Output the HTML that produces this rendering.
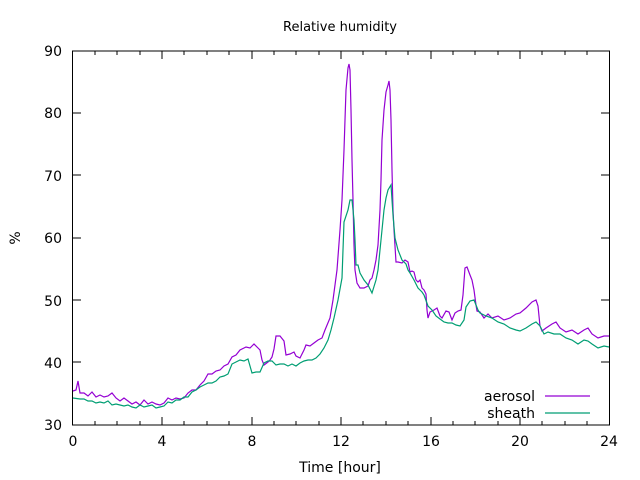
<!DOCTYPE html>
<html><head><meta charset="utf-8"><style>
html,body{margin:0;padding:0;background:#fff}
svg{display:block;font-family:"DejaVu Sans","Liberation Sans",sans-serif}
</style></head><body>
<svg width="640" height="480" viewBox="0 0 640 480" xmlns="http://www.w3.org/2000/svg">
<rect width="640" height="480" fill="#fff"/>
<text x="340" y="31" font-size="13" text-anchor="middle">Relative humidity</text>
<g font-size="14" text-anchor="end">
<text x="62" y="56">90</text><text x="62" y="118">80</text><text x="62" y="181">70</text>
<text x="62" y="243">60</text><text x="62" y="306">50</text><text x="62" y="368">40</text><text x="62" y="430">30</text>
</g>
<g font-size="14" text-anchor="middle">
<text x="73" y="446">0</text><text x="162" y="446">4</text><text x="252" y="446">8</text>
<text x="341" y="446">12</text><text x="431" y="446">16</text><text x="520" y="446">20</text><text x="609" y="446">24</text>
</g>
<text x="340" y="472" font-size="14" text-anchor="middle">Time [hour]</text>
<text x="20" y="238" font-size="14" text-anchor="middle" transform="rotate(-90 20 238)">%</text>
<g stroke="#000" stroke-width="1">
<path d="M72.5,113H81M72.5,175H81M72.5,238H81M72.5,300H81M72.5,362H81M609.5,113H601M609.5,175H601M609.5,238H601M609.5,300H601M609.5,362H601"/>
<path d="M95,425v-4M117,425v-4M140,425v-4M162,425v-8M184,425v-4M207,425v-4M229,425v-4M252,425v-8M274,425v-4M296,425v-4M319,425v-4M341,425v-8M363,425v-4M386,425v-4M408,425v-4M431,425v-8M453,425v-4M475,425v-4M498,425v-4M520,425v-8M542,425v-4M565,425v-4M587,425v-4"/>
<path d="M95,51v4M117,51v4M140,51v4M162,51v8M184,51v4M207,51v4M229,51v4M252,51v8M274,51v4M296,51v4M319,51v4M341,51v8M363,51v4M386,51v4M408,51v4M431,51v8M453,51v4M475,51v4M498,51v4M520,51v8M542,51v4M565,51v4M587,51v4"/>
<rect x="72.5" y="51" width="537" height="374" fill="none"/>
</g>
<polyline fill="none" stroke="#9400d3" stroke-width="1.2" points="73,391 76,390 78,381 80,393 84,393 88,396 92,392 96,397 100,395 104,397 108,396 112,393 116,398 120,401 124,398 128,401 132,404 136,402 140,405 144,400 148,404 152,402 156,404 160,405 164,403 168,398 172,400 176,398 180,399 184,398 188,393 192,390 196,390 200,385 204,381 208,374 212,374 216,371 220,370 224,366 228,364 232,357 236,355 240,350 244,348 246,347 250,348 254,344 258,348 260,350 262,360 264,365 268,362 270,360 272,357 274,349 276,336 280,336 284,341 286,355 290,354 294,352 296,356 300,358 304,350 306,345 310,346 314,343 318,340 322,338 325,330 330,318 333,300 337,270 340,230 342,200 344,150 346,90 348,68 349,64 350,70 351,110 352,160 353,200 354,245 355,270 357,283 360,288 364,288 368,286 370,280 372,278 374,270 376,260 378,245 380,210 381,180 382,140 384,110 386,92 388,85 389,81 390,90 391,120 392,170 393,210 394,230 396,262 398,262 402,263 405,260 408,262 410,272 412,271 414,272 416,280 418,282 420,280 422,288 424,290 426,294 427,310 428,318 430,312 434,310 437,308 440,316 442,318 446,311 449,312 452,320 455,313 458,311 461,310 463,295 465,268 467,267 470,275 472,280 474,290 476,305 477,311 480,312 484,318 488,314 492,318 498,316 504,320 510,318 516,314 520,313 526,308 532,302 536,300 538,306 540,326 542,331 546,328 552,324 556,322 560,328 566,332 572,330 578,334 584,330 588,328 592,334 598,338 604,336 609,336"/>
<polyline fill="none" stroke="#009e73" stroke-width="1.2" points="73,398 80,399 84,399 88,401 92,401 96,403 100,402 104,403 108,401 112,405 116,404 120,405 124,406 128,405 132,407 136,408 140,405 144,407 148,406 152,405 156,408 160,407 164,406 168,402 172,403 176,400 180,400 184,397 188,397 192,392 196,390 200,387 204,385 208,383 212,383 216,381 220,377 224,376 228,374 232,364 236,362 240,360 244,361 248,359 252,373 256,372 260,372 264,363 268,361 272,361 276,365 280,364 284,364 288,366 292,364 296,366 300,363 304,361 308,360 312,360 316,358 320,354 324,348 328,340 331,330 334,318 338,300 342,278 344,222 348,210 350,200 352,200 354,220 355,240 356,265 358,265 360,273 364,280 368,285 372,293 376,280 378,270 380,250 382,230 384,210 386,198 388,190 391,185 393,215 395,238 398,250 402,260 406,264 408,270 410,273 414,280 418,288 422,292 424,295 428,306 432,310 436,316 440,319 444,322 448,323 452,323 456,325 460,326 464,320 466,307 470,301 474,300 478,310 480,313 486,316 492,318 498,322 504,324 510,328 516,330 520,331 526,328 532,324 536,322 540,326 544,334 548,332 554,334 560,334 566,338 572,340 578,344 584,340 588,341 592,344 598,348 604,346 609,347"/>
<g font-size="14" text-anchor="end">
<text x="535" y="401">aerosol</text><text x="535" y="418">sheath</text>
</g>
<path d="M545,396H590" stroke="#9400d3" stroke-width="1.2"/>
<path d="M545,413H590" stroke="#009e73" stroke-width="1.2"/>
</svg>
</body></html>
